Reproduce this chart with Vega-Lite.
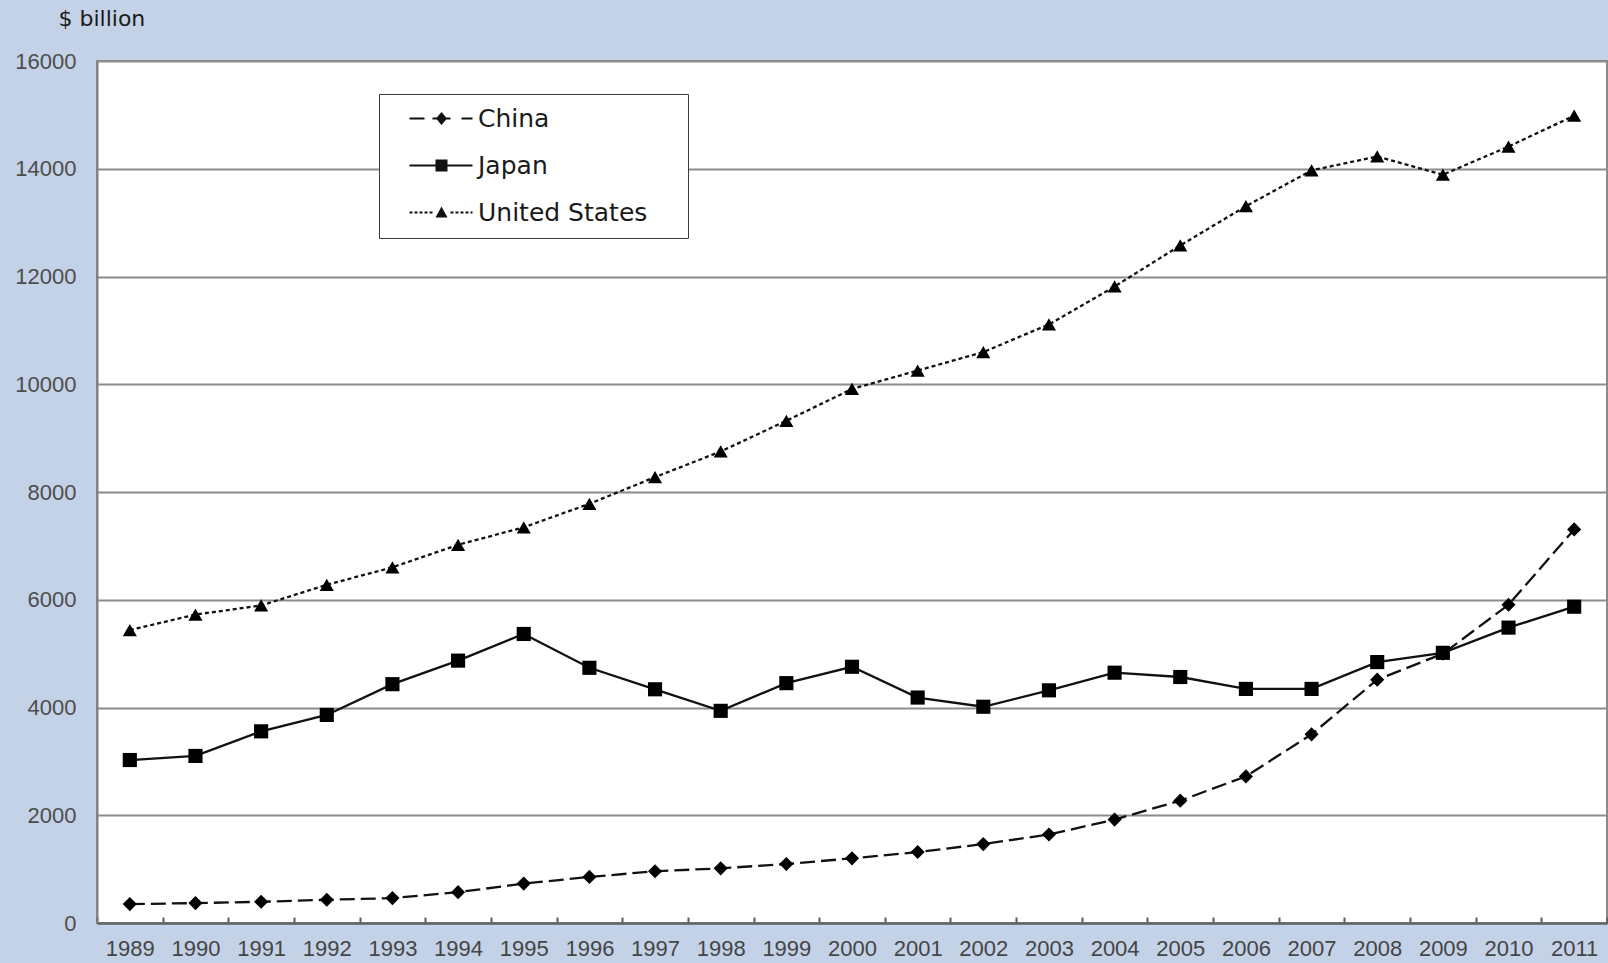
{
  "$schema": "https://vega.github.io/schema/vega-lite/v6.json",
  "autosize": {"type": "none"},
  "padding": {"left": 97, "top": 61, "right": 1, "bottom": 40},
  "width": 1510,
  "height": 862,
  "background": "#c3d2e6",
  "config": {
    "font": "Liberation Sans",
    "view": {"fill": "white", "stroke": "#8a8a8a", "strokeWidth": 2}
  },
  "data": {
    "values": [
      {"year": "1989", "country": "China", "gdp": 351},
      {"year": "1990", "country": "China", "gdp": 369},
      {"year": "1991", "country": "China", "gdp": 394},
      {"year": "1992", "country": "China", "gdp": 431},
      {"year": "1993", "country": "China", "gdp": 462},
      {"year": "1994", "country": "China", "gdp": 572},
      {"year": "1995", "country": "China", "gdp": 732},
      {"year": "1996", "country": "China", "gdp": 855},
      {"year": "1997", "country": "China", "gdp": 960},
      {"year": "1998", "country": "China", "gdp": 1015},
      {"year": "1999", "country": "China", "gdp": 1095},
      {"year": "2000", "country": "China", "gdp": 1200},
      {"year": "2001", "country": "China", "gdp": 1317},
      {"year": "2002", "country": "China", "gdp": 1465},
      {"year": "2003", "country": "China", "gdp": 1643},
      {"year": "2004", "country": "China", "gdp": 1920},
      {"year": "2005", "country": "China", "gdp": 2271},
      {"year": "2006", "country": "China", "gdp": 2721},
      {"year": "2007", "country": "China", "gdp": 3502},
      {"year": "2008", "country": "China", "gdp": 4517},
      {"year": "2009", "country": "China", "gdp": 4997},
      {"year": "2010", "country": "China", "gdp": 5908},
      {"year": "2011", "country": "China", "gdp": 7305},
      {"year": "1989", "country": "Japan", "gdp": 3025},
      {"year": "1990", "country": "Japan", "gdp": 3101},
      {"year": "1991", "country": "Japan", "gdp": 3558},
      {"year": "1992", "country": "Japan", "gdp": 3862},
      {"year": "1993", "country": "Japan", "gdp": 4433},
      {"year": "1994", "country": "Japan", "gdp": 4870},
      {"year": "1995", "country": "Japan", "gdp": 5365},
      {"year": "1996", "country": "Japan", "gdp": 4737},
      {"year": "1997", "country": "Japan", "gdp": 4338},
      {"year": "1998", "country": "Japan", "gdp": 3938},
      {"year": "1999", "country": "Japan", "gdp": 4452},
      {"year": "2000", "country": "Japan", "gdp": 4756},
      {"year": "2001", "country": "Japan", "gdp": 4185},
      {"year": "2002", "country": "Japan", "gdp": 4014},
      {"year": "2003", "country": "Japan", "gdp": 4319},
      {"year": "2004", "country": "Japan", "gdp": 4646},
      {"year": "2005", "country": "Japan", "gdp": 4566},
      {"year": "2006", "country": "Japan", "gdp": 4345},
      {"year": "2007", "country": "Japan", "gdp": 4345},
      {"year": "2008", "country": "Japan", "gdp": 4843},
      {"year": "2009", "country": "Japan", "gdp": 5015},
      {"year": "2010", "country": "Japan", "gdp": 5483},
      {"year": "2011", "country": "Japan", "gdp": 5871},
      {"year": "1989", "country": "United States", "gdp": 5437},
      {"year": "1990", "country": "United States", "gdp": 5725},
      {"year": "1991", "country": "United States", "gdp": 5894},
      {"year": "1992", "country": "United States", "gdp": 6278},
      {"year": "1993", "country": "United States", "gdp": 6602},
      {"year": "1994", "country": "United States", "gdp": 7020},
      {"year": "1995", "country": "United States", "gdp": 7344},
      {"year": "1996", "country": "United States", "gdp": 7781},
      {"year": "1997", "country": "United States", "gdp": 8276},
      {"year": "1998", "country": "United States", "gdp": 8752},
      {"year": "1999", "country": "United States", "gdp": 9322},
      {"year": "2000", "country": "United States", "gdp": 9912},
      {"year": "2001", "country": "United States", "gdp": 10254},
      {"year": "2002", "country": "United States", "gdp": 10597},
      {"year": "2003", "country": "United States", "gdp": 11111},
      {"year": "2004", "country": "United States", "gdp": 11815},
      {"year": "2005", "country": "United States", "gdp": 12576},
      {"year": "2006", "country": "United States", "gdp": 13305},
      {"year": "2007", "country": "United States", "gdp": 13969},
      {"year": "2008", "country": "United States", "gdp": 14228},
      {"year": "2009", "country": "United States", "gdp": 13889},
      {"year": "2010", "country": "United States", "gdp": 14412},
      {"year": "2011", "country": "United States", "gdp": 14985}
    ]
  },
  "encoding": {
    "x": {
      "field": "year",
      "type": "ordinal",
      "scale": {"type": "band", "paddingInner": 0, "paddingOuter": 0},
      "axis": {
        "title": null,
        "labelAngle": 0,
        "labelFont": "Liberation Sans",
        "labelFontSize": 22,
        "labelColor": "#454545",
        "labelPadding": 21,
        "tickBand": "extent",
        "tickSize": -6,
        "tickColor": "#5a5a5a",
        "tickWidth": 2,
        "domainColor": "#666666",
        "domainWidth": 2.5,
        "grid": false
      }
    },
    "y": {
      "field": "gdp",
      "type": "quantitative",
      "scale": {"domain": [0, 16000], "nice": false},
      "axis": {
        "values": [0, 2000, 4000, 6000, 8000, 10000, 12000, 14000, 16000],
        "format": "d",
        "title": "$ billion",
        "titleAngle": 0,
        "titleAlign": "left",
        "titleBaseline": "middle",
        "titleX": -39,
        "titleY": -43,
        "titleFont": "DejaVu Sans",
        "titleFontSize": 22,
        "titleFontWeight": "normal",
        "titleColor": "#1a1a1a",
        "labelFont": "Liberation Sans",
        "labelFontSize": 22,
        "labelColor": "#4d4d4d",
        "labelPadding": 21,
        "ticks": false,
        "tickSize": 0,
        "domainColor": "#808080",
        "domainWidth": 2,
        "grid": true,
        "gridColor": "#8c8c8c",
        "gridWidth": 2
      }
    }
  },
  "layer": [
    {
      "transform": [{"filter": {"field": "country", "equal": "China"}}],
      "mark": {"type": "line", "color": "#111111", "strokeWidth": 2.3, "strokeDash": [15, 6]}
    },
    {
      "transform": [{"filter": {"field": "country", "equal": "Japan"}}],
      "mark": {"type": "line", "color": "#111111", "strokeWidth": 2.3}
    },
    {
      "transform": [{"filter": {"field": "country", "equal": "United States"}}],
      "mark": {"type": "line", "color": "#111111", "strokeWidth": 2.3, "strokeDash": [4, 3]}
    },
    {
      "mark": {"type": "point", "filled": true, "color": "#000000", "opacity": 1, "size": 200},
      "encoding": {
        "shape": {
          "field": "country",
          "type": "nominal",
          "scale": {"range": ["diamond", "square", "triangle-up"]},
          "legend": null
        }
      }
    },
    {
      "transform": [{"filter": {"field": "gdp", "lt": 0}}],
      "mark": {"type": "point", "filled": true, "color": "#111111", "opacity": 1, "size": 4},
      "encoding": {
        "shape": {
          "field": "country",
          "type": "nominal",
          "scale": {
            "domain": ["China", "Japan", "United States"],
            "range": [
              "M6,-1H21V1H6ZM29,-1H47V1H29ZM58,-1H69V1H58ZM32.5,0L38,-6.5L43.5,0L38,6.5ZM272,0",
              "M6,-1H69V1H6ZM32,-6H44V6H32ZM272,0",
              "M6,-1H9V1H6ZM11,-1H14V1H11ZM16,-1H19V1H16ZM21,-1H24V1H21ZM26,-1H29V1H26ZM47,-1H50V1H47ZM52,-1H55V1H52ZM57,-1H60V1H57ZM62,-1H65V1H62ZM67,-1H69V1H67ZM38,-6L44,5L32,5ZM272,0"
            ]
          },
          "legend": {
            "title": null,
            "orient": "none",
            "legendX": 282,
            "legendY": 33,
            "direction": "vertical",
            "fillColor": "white",
            "strokeColor": "#3a3a3a",
            "padding": 12,
            "rowPadding": 21,
            "symbolSize": 4,
            "symbolStrokeWidth": 0,
            "symbolFillColor": "#111111",
            "symbolOpacity": 1,
            "labelFont": "DejaVu Sans",
            "labelFontSize": 25,
            "labelColor": "#1a1a1a",
            "labelOffset": 62,
            "labelLimit": 400
          }
        }
      }
    }
  ],
  "resolve": {"scale": {"shape": "independent"}}
}
